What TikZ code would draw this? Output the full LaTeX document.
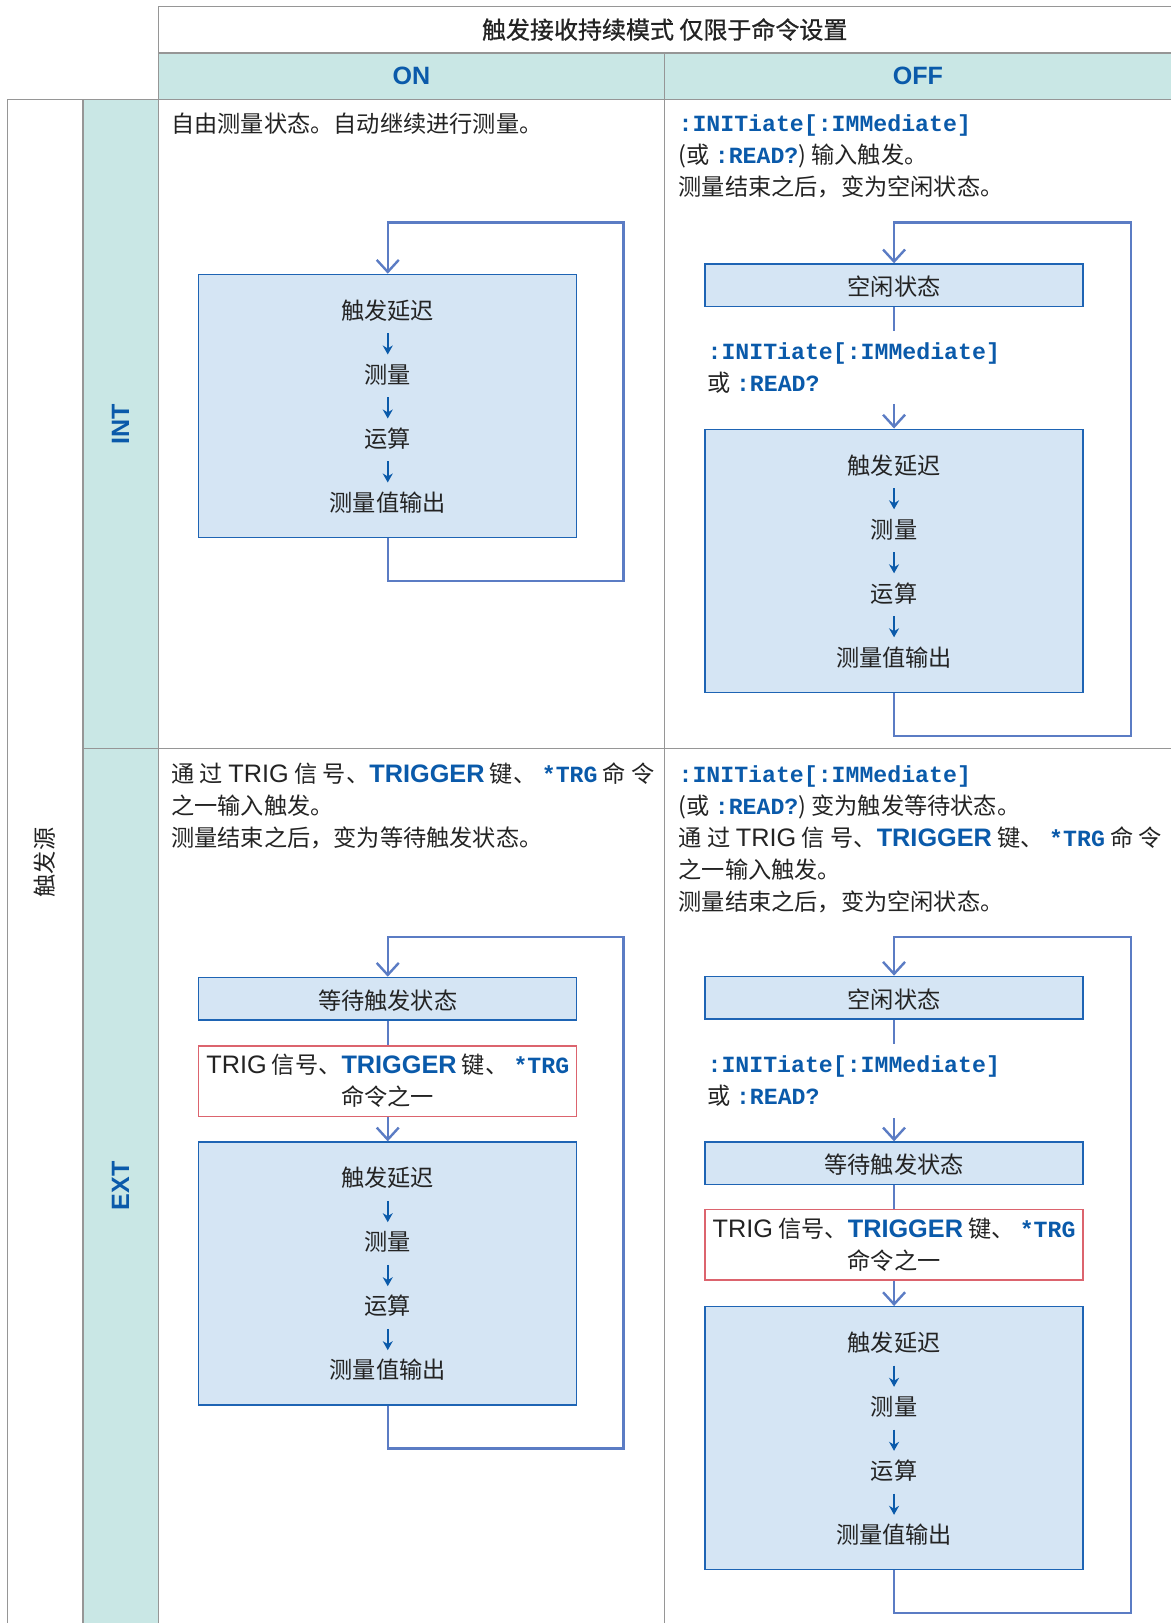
\documentclass[tikz,border=0pt]{standalone}
\usepackage{fontspec}
\setmainfont{Noto Sans CJK SC}
\setmonofont{Liberation Mono}
\newfontfamily\latinsf{Liberation Sans}[Scale=1.09]
\newfontfamily\headfont{Noto Sans CJK SC}[FakeBold=0.8]
\usepackage{tikz}
\usetikzlibrary{arrows.meta,positioning,calc}

\definecolor{gridgray}{RGB}{150,150,150}
\definecolor{headteal}{RGB}{201,231,229}
\definecolor{boxfill}{RGB}{213,229,244}
\definecolor{boxline}{RGB}{30,100,180}
\definecolor{loopblue}{RGB}{91,124,196}
\definecolor{txtblue}{RGB}{10,90,170}
\definecolor{trigred}{RGB}{220,100,110}
\definecolor{txtdark}{RGB}{35,35,35}

\newcommand{\cmd}[1]{{\ttfamily\bfseries\color{txtblue}#1}}
\newcommand{\trigsig}{{\latinsf TRIG}}
\newcommand{\trigkey}{{\latinsf\bfseries\color{txtblue}TRIGGER}}
\newcommand{\trigline}{\makebox[241.8pt][s]{通 过 \trigsig{} 信 号、\trigkey{} 键、 \cmd{*TRG} 命 令}}

\begin{document}
\begin{tikzpicture}[x=0.5pt, y=-0.5pt,
      font=\fontsize{11.6}{16}\selectfont, text=txtdark,
      grid/.style     = {draw=gridgray, line width=0.7pt},
      colhead/.style  = {font=\fontsize{11.5}{14}\selectfont\latinsf\bfseries,
                         text=txtblue},
      desc/.style     = {anchor=north west, align=left, inner sep=0pt,
                         execute at begin node=\strut},
      bigbox/.style   = {rectangle, draw=boxline, fill=boxfill, line width=0.7pt,
                         minimum width=189pt, minimum height=131.5pt},
      statebox/.style = {bigbox, minimum height=21.25pt, inner sep=0pt,
                         text height=12.3pt, text depth=1.8pt},
      trigbox/.style  = {rectangle, draw=trigred, fill=white, line width=0.7pt,
                         minimum width=189pt, minimum height=35.2pt,
                         align=center, inner sep=0pt},
      stepnode/.style = {inner xsep=2pt, inner ysep=5pt,
                         text height=9.2pt, text depth=1.8pt},
      link/.style     = {draw=loopblue, line width=1.2pt},
      arrow/.style    = {link, -{Straight Barb[length=6pt,width=11pt]}},
      steparrow/.style = {draw=txtblue, line width=0.8pt,
                          -{Stealth[length=4.5pt,width=5pt]}},
      node distance = 10.6pt
    ]
    \useasboundingbox (0,0) rectangle (1171,1623);

    \fill[headteal] (158.4,52.8) rectangle (1171,99.4);
    \fill[headteal] (82.8,99.4) rectangle (158.4,1623);
    \draw[grid] (158.4,1623) -- (158.4,6.2) -- (1171,6.2);
    \draw[grid] (158.4,52.8) -- (1171,52.8);
    \draw[grid] (7.2,1623) -- (7.2,99.4) -- (1171,99.4);
    \draw[grid] (82.8,99.4) -- (82.8,1623);
    \draw[grid] (664.7,52.8) -- (664.7,1623);
    \draw[grid] (82.8,748.6) -- (1171,748.6);

    \node[font=\fontsize{12}{14}\selectfont\headfont] (mode) at (664.7,29.5) {触发接收持续模式 仅限于命令设置};
    \node[colhead] (on)  at (411.5,76.1) {ON};
    \node[colhead] (off) at (917.9,76.1) {OFF};
    \node[rotate=90] (src) at (45,862.5) {触发源};
    \node[colhead, rotate=90] (int) at (120.4,424) {INT};
    \node[colhead, rotate=90] (ext) at (120.4,1186) {EXT};

    \node[desc] (dA) at (170.8,109.6) {自由测量状态。自动继续进行测量。};
    \node[bigbox] (mA) at (387.75,405.9) {};
    \node[stepnode, below=8.4pt of mA.north] (a1) {触发延迟};
    \node[stepnode, below=of a1] (a2) {测量};
    \node[stepnode, below=of a2] (a3) {运算};
    \node[stepnode, below=of a3] (a4) {测量值输出};
    \coordinate (rA1) at (623.3,580.9);
    \coordinate (rA2) at (623.3,222.6);

    \node[desc] (dB) at (678.2,114.6) {\cmd{:INITiate[:IMMediate]}\\(或 \cmd{:READ?}) 输入触发。\\测量结束之后，变为空闲状态。};
    \node[statebox] (iB) at (894.05,285.25) {空闲状态};
    \coordinate (cB1) at (894.05,331.3);
    \node[desc] (kB) at (707.2,342.6) {\cmd{:INITiate[:IMMediate]}\\或 \cmd{:READ?}};
    \coordinate (cB2) at (894.05,403.8);
    \node[bigbox] (mB) at (894.05,560.7) {};
    \node[stepnode, below=8.4pt of mB.north] (b1) {触发延迟};
    \node[stepnode, below=of b1] (b2) {测量};
    \node[stepnode, below=of b2] (b3) {运算};
    \node[stepnode, below=of b3] (b4) {测量值输出};
    \coordinate (rB1) at (1130.7,736.2);
    \coordinate (rB2) at (1130.7,222.6);

    \node[desc] (dC) at (170.8,762.8) {\trigline\\之一输入触发。\\测量结束之后，变为等待触发状态。};
    \node[statebox] (wC) at (387.75,998.65) {等待触发状态};
    \node[trigbox] (tC) at (387.75,1081) {\trigsig{} 信号、\trigkey{} 键、 \cmd{*TRG}\\命令之一};
    \node[bigbox] (mC) at (387.75,1273.55) {};
    \node[stepnode, below=8.4pt of mC.north] (c1) {触发延迟};
    \node[stepnode, below=of c1] (c2) {测量};
    \node[stepnode, below=of c2] (c3) {运算};
    \node[stepnode, below=of c3] (c4) {测量值输出};
    \coordinate (rC1) at (623.3,1448.5);
    \coordinate (rC2) at (623.3,937.1);

    \node[desc] (dD) at (678.2,764.8) {\cmd{:INITiate[:IMMediate]}\\(或 \cmd{:READ?}) 变为触发等待状态。\\\trigline\\之一输入触发。\\测量结束之后，变为空闲状态。};
    \node[statebox] (iD) at (894.05,997.6) {空闲状态};
    \coordinate (cD1) at (894.05,1043.7);
    \node[desc] (kD) at (707.2,1055) {\cmd{:INITiate[:IMMediate]}\\或 \cmd{:READ?}};
    \coordinate (cD2) at (894.05,1118);
    \node[statebox] (wD) at (894.05,1163.3) {等待触发状态};
    \node[trigbox] (tD) at (894.05,1244.6) {\trigsig{} 信号、\trigkey{} 键、 \cmd{*TRG}\\命令之一};
    \node[bigbox] (mD) at (894.05,1438.2) {};
    \node[stepnode, below=8.4pt of mD.north] (d1) {触发延迟};
    \node[stepnode, below=of d1] (d2) {测量};
    \node[stepnode, below=of d2] (d3) {运算};
    \node[stepnode, below=of d3] (d4) {测量值输出};
    \coordinate (rD1) at (1130.7,1613.2);
    \coordinate (rD2) at (1130.7,937.1);

    \draw[steparrow] (a1) -- (a2);
    \draw[steparrow] (a2) -- (a3);
    \draw[steparrow] (a3) -- (a4);
    \draw[arrow] (mA.south) |- (rA1) -- (rA2) -| (mA.north);

    \draw[link] (iB) -- (cB1);
    \draw[arrow] (cB2) -- (mB);
    \draw[steparrow] (b1) -- (b2);
    \draw[steparrow] (b2) -- (b3);
    \draw[steparrow] (b3) -- (b4);
    \draw[arrow] (mB.south) |- (rB1) -- (rB2) -| (iB.north);

    \draw[link] (wC) -- (tC);
    \draw[arrow] (tC) -- (mC);
    \draw[steparrow] (c1) -- (c2);
    \draw[steparrow] (c2) -- (c3);
    \draw[steparrow] (c3) -- (c4);
    \draw[arrow] (mC.south) |- (rC1) -- (rC2) -| (wC.north);

    \draw[link] (iD) -- (cD1);
    \draw[arrow] (cD2) -- (wD);
    \draw[link] (wD) -- (tD);
    \draw[arrow] (tD) -- (mD);
    \draw[steparrow] (d1) -- (d2);
    \draw[steparrow] (d2) -- (d3);
    \draw[steparrow] (d3) -- (d4);
    \draw[arrow] (mD.south) |- (rD1) -- (rD2) -| (iD.north);
  \end{tikzpicture}
\end{document}
